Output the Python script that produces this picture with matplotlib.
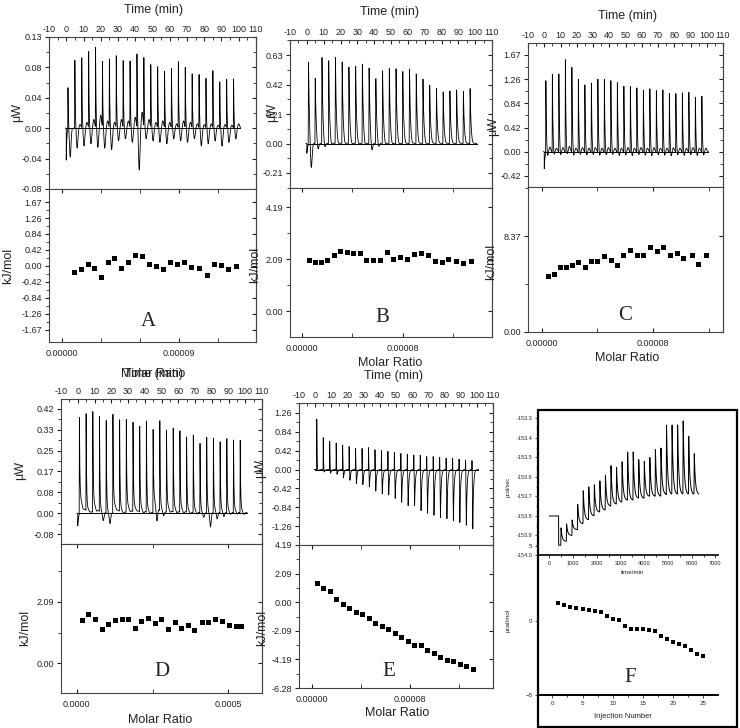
import numpy as np
import matplotlib
matplotlib.use('Agg')
import matplotlib.pyplot as plt
from matplotlib.ticker import FixedLocator, FixedFormatter, MultipleLocator
from matplotlib.patches import Rectangle

plt.rcParams['font.family'] = ['Liberation Sans', 'DejaVu Sans']
plt.rcParams['axes.linewidth'] = 0.8

# ---------------- data ----------------
inj_time = [1, 5, 9, 13, 17, 21, 25, 29, 33, 37, 41, 45, 49,
            53, 57, 61, 65, 69, 73, 77, 81, 85, 89, 93, 97]
time_ticks = [-10, 0, 10, 20, 30, 40, 50, 60, 70, 80, 90, 100, 110]

# A
a_peak = [0.059, 0.095, 0.097, 0.105, 0.111, 0.091, 0.096, 0.101, 0.093, 0.092, 0.101, 0.095, 0.087,
          0.085, 0.079, 0.083, 0.092, 0.083, 0.074, 0.074, 0.069, 0.080, 0.065, 0.068, 0.068]
a_dip = [-0.040, -0.028, -0.025, -0.022, -0.027, -0.028, -0.030, -0.018, -0.015, -0.020, -0.058, -0.015, -0.018,
         -0.020, -0.022, -0.015, -0.018, -0.020, -0.015, -0.025, -0.022, -0.018, -0.025, -0.020, -0.015]
a_bump = [0.0, 0.005, 0.008, 0.012, 0.018, 0.010, 0.008, 0.012, 0.010, 0.015, 0.022, 0.012, 0.008,
          0.010, 0.008, 0.006, 0.010, 0.008, 0.006, 0.005, 0.006, 0.004, 0.005, 0.004, 0.006]
a_ratio = [0.93, 1.45, 1.97, 2.48, 3.00, 3.52, 4.03, 4.55, 5.07, 5.64, 6.15, 6.70,
           7.22, 7.78, 8.33, 8.90, 9.41, 9.98, 10.58, 11.15, 11.72, 12.26, 12.83, 13.42]  # x1e-5
a_heat = [-0.16, -0.09, 0.04, -0.05, -0.30, 0.11, 0.21, -0.05, 0.11, 0.30, 0.27, 0.04,
          0.00, -0.07, 0.11, 0.06, 0.11, -0.03, -0.05, -0.23, 0.06, 0.02, -0.09, 0.01]

# B
b_peak = [0.593, 0.467, 0.612, 0.588, 0.612, 0.581, 0.546, 0.553, 0.569, 0.539, 0.460, 0.517, 0.534,
          0.534, 0.515, 0.534, 0.498, 0.458, 0.413, 0.392, 0.368, 0.375, 0.384, 0.375, 0.392]
b_dip = [-0.20, -0.06, -0.05, -0.03, -0.02, -0.02, -0.02, -0.02, -0.03, -0.07, -0.04, -0.02, -0.02,
         -0.02, -0.015, -0.015, -0.015, -0.015, -0.01, -0.01, -0.01, -0.01, -0.01, -0.01, -0.01]
b_ratio = [0.58, 1.05, 1.53, 2.03, 2.56, 3.03, 3.56, 4.09, 4.62, 5.12, 5.67, 6.20, 6.73,
           7.26, 7.79, 8.32, 8.89, 9.42, 10.03, 10.56, 11.09, 11.61, 12.22, 12.80, 13.41]
b_heat = [2.08, 2.00, 1.99, 2.07, 2.27, 2.43, 2.38, 2.36, 2.36, 2.08, 2.08, 2.05, 2.38,
          2.11, 2.17, 2.11, 2.31, 2.34, 2.27, 2.01, 1.99, 2.09, 2.03, 1.92, 2.04]

# C
c_peak = [1.278, 1.354, 1.354, 1.598, 1.470, 1.267, 1.174, 1.209, 1.278, 1.261, 1.232, 1.203, 1.145,
          1.145, 1.122, 1.087, 1.104, 1.063, 1.075, 1.017, 1.017, 1.034, 1.046, 0.959, 0.970]
c_dip = [-0.12, -0.10, -0.11, -0.10, -0.12, -0.10, -0.11, -0.10, -0.12, -0.11, -0.10, -0.12, -0.11,
         -0.12, -0.10, -0.11, -0.12, -0.10, -0.11, -0.12, -0.10, -0.11, -0.10, -0.11, -0.10]
c_bump = [0.08, 0.06, 0.07, 0.09, 0.06, 0.07, 0.06, 0.07, 0.06, 0.07, 0.06, 0.06, 0.07,
          0.06, 0.07, 0.06, 0.07, 0.06, 0.06, 0.07, 0.06, 0.06, 0.07, 0.06, 0.06]
c_ratio = [0.43, 0.88, 1.31, 1.74, 2.20, 2.63, 3.10, 3.53, 3.99, 4.47, 4.94, 5.37, 5.85,
           6.33, 6.81, 7.28, 7.76, 8.24, 8.72, 9.19, 9.67, 10.15, 10.75, 11.22, 11.77]
c_heat = [4.93, 5.05, 5.64, 5.67, 5.87, 6.11, 5.70, 6.23, 6.23, 6.61, 6.31, 5.87, 6.73,
          7.14, 6.75, 6.73, 7.43, 7.05, 7.46, 6.73, 6.93, 6.43, 6.75, 5.96, 6.73]

# D
d_peak = [0.394, 0.391, 0.404, 0.380, 0.371, 0.398, 0.371, 0.378, 0.362, 0.344, 0.364, 0.333, 0.362,
          0.333, 0.341, 0.331, 0.304, 0.311, 0.277, 0.304, 0.301, 0.287, 0.301, 0.295, 0.291]
d_tail = [0.085, 0.02, 0.055, 0.01, 0.01, 0.06, 0.02, 0.05, 0.04, 0.03, 0.02, 0.08, 0.02,
          0.04, 0.03, 0.03, 0.02, 0.02, 0.01, 0.02, 0.02, 0.02, 0.015, 0.02, 0.015]
d_dip = [-0.01, -0.005, -0.01, -0.035, -0.045, -0.005, -0.01, -0.01, -0.005, -0.01, -0.01, -0.058, -0.02,
         -0.01, -0.01, -0.01, -0.01, -0.01, -0.02, -0.062, -0.03, -0.02, -0.01, -0.01, -0.01]
d_ratio = [0.165, 0.385, 0.60, 0.82, 1.04, 1.26, 1.48, 1.70, 1.91, 2.13, 2.35, 2.57, 2.79,
           3.01, 3.23, 3.45, 3.66, 3.88, 4.12, 4.34, 4.56, 4.79, 5.03, 5.24, 5.41]  # x1e-4
d_heat = [1.49, 1.67, 1.51, 1.16, 1.33, 1.46, 1.51, 1.50, 1.20, 1.45, 1.53, 1.38, 1.51,
          1.16, 1.42, 1.20, 1.30, 1.15, 1.41, 1.41, 1.51, 1.45, 1.32, 1.27, 1.27]

# E
e_up = [1.144, 0.716, 0.628, 0.590, 0.546, 0.517, 0.480, 0.480, 0.495, 0.443, 0.421, 0.406, 0.384,
        0.362, 0.347, 0.332, 0.325, 0.288, 0.288, 0.273, 0.258, 0.251, 0.236, 0.214, 0.199]
e_down = [-0.096, -0.111, -0.133, -0.155, -0.229, -0.280, -0.354, -0.377, -0.428, -0.517, -0.576, -0.598, -0.672,
          -0.760, -0.834, -0.834, -0.945, -0.997, -1.040, -1.093, -1.115, -1.167, -1.204, -1.263, -1.336]
e_ratio = [0.41, 0.94, 1.47, 2.00, 2.53, 3.06, 3.59, 4.12, 4.66, 5.19, 5.72, 6.25, 6.78,
           7.31, 7.84, 8.37, 8.91, 9.44, 9.97, 10.50, 11.03, 11.56, 12.09, 12.62, 13.18]
e_heat = [1.41, 1.02, 0.80, 0.27, -0.12, -0.46, -0.73, -0.90, -1.14, -1.51, -1.75, -1.95, -2.24,
          -2.56, -2.87, -3.12, -3.12, -3.48, -3.72, -4.02, -4.21, -4.31, -4.50, -4.67, -4.89]

# F
f_time = [494, 728, 962, 1196, 1430, 1664, 1898, 2132, 2366, 2600, 2834, 3068, 3302,
          3536, 3770, 4004, 4238, 4472, 4706, 4940, 5174, 5408, 5642, 5876, 6110]
f_peak = [-153.86, -153.84, -153.82, -153.74, -153.67, -153.65, -153.64, -153.62, -153.59, -153.54,
          -153.55, -153.52, -153.47, -153.47, -153.51, -153.52, -153.50, -153.46, -153.45, -153.33,
          -153.33, -153.33, -153.31, -153.39, -153.48]
f_base = [-153.95, -153.93, -153.90, -153.87, -153.84, -153.82, -153.80, -153.78, -153.77, -153.75,
          -153.74, -153.73, -153.72, -153.72, -153.71, -153.71, -153.70, -153.70, -153.70, -153.69,
          -153.69, -153.69, -153.69, -153.69, -153.69]
f_inj = list(range(1, 26))
f_heat = [1.17, 1.08, 0.94, 0.85, 0.76, 0.70, 0.63, 0.58, 0.31, 0.13, 0.02, -0.36, -0.56,
          -0.56, -0.58, -0.63, -0.70, -1.03, -1.21, -1.43, -1.57, -1.70, -1.97, -2.26, -2.35]

# ---------------- helpers ----------------
FW, FH = 740, 728
fig = plt.figure(figsize=(FW / 100, FH / 100), dpi=100)
INK = '#222222'


def box(l, t, r, b):
    return fig.add_axes([l / FW, 1 - b / FH, (r - l) / FW, (b - t) / FH])


def ftext(x, y, s, **kw):
    kw.setdefault('color', INK)
    fig.text(x / FW, 1 - y / FH, s, ha='center', va='center', **kw)


t = np.linspace(-0.5, 101, 12000)


def spikes(heights, tau, rise=0.2):
    y = np.zeros_like(t)
    for ti, h in zip(inj_time, heights):
        d = t - ti
        y += np.where((d > -rise) & (d < 0), h * (d + rise) / rise, 0)
        y += np.where(d >= 0, h * np.exp(-np.clip(d, 0, None) / tau), 0)
    return y


def bumps(amps, offset, width):
    y = np.zeros_like(t)
    for ti, a in zip(inj_time, amps):
        y += a * np.exp(-0.5 * ((t - ti - offset) / width) ** 2)
    return y


def start(v, tau=0.6):
    return np.where(t >= 0, v * np.exp(-np.clip(t, 0, None) / tau), 0)


def mids(vals):
    return [(a + b) / 2 for a, b in zip(vals[:-1], vals[1:])]


def style_y(ax, ticks, labels, minor=True):
    ax.yaxis.set_major_locator(FixedLocator(ticks))
    ax.yaxis.set_major_formatter(FixedFormatter(labels))
    if minor:
        ax.yaxis.set_minor_locator(FixedLocator(mids(ticks) + [ticks[0] - (ticks[1] - ticks[0]) / 2,
                                                               ticks[-1] + (ticks[1] - ticks[0]) / 2]))
    ax.tick_params(axis='y', which='both', direction='out', left=True, right=False,
                   labelsize=6.5, colors=INK, pad=2)
    ax.tick_params(axis='y', which='major', length=3)
    ax.tick_params(axis='y', which='minor', length=2)
    sec = ax.secondary_yaxis('right')
    sec.yaxis.set_major_locator(FixedLocator(ticks))
    sec.yaxis.set_minor_locator(ax.yaxis.get_minor_locator())
    sec.tick_params(which='both', direction='in', labelright=False, colors=INK)
    sec.tick_params(which='major', length=3)
    sec.tick_params(which='minor', length=2)
    sec.spines['right'].set_color('#444444')
    for s in ax.spines.values():
        s.set_color('#444444')


def top_panel(box_px, trace, ylim, ticks, labels):
    ax = box(*box_px)
    ax.plot(t, trace, color='black', lw=0.6)
    ax.plot([0, 101], [0, 0], color='black', lw=0.7)
    ax.set_xlim(-10, 110)
    ax.set_ylim(*ylim)
    ax.xaxis.set_ticks_position('top')
    ax.xaxis.set_major_locator(FixedLocator(time_ticks))
    ax.xaxis.set_major_formatter(FixedFormatter([str(v) for v in time_ticks]))
    ax.xaxis.set_minor_locator(MultipleLocator(5))
    ax.tick_params(axis='x', which='both', direction='in', top=True, bottom=False,
                   labelsize=6.5, colors=INK, pad=2)
    ax.tick_params(axis='x', which='major', length=3)
    ax.tick_params(axis='x', which='minor', length=2)
    style_y(ax, ticks, labels)
    return ax


def bottom_panel(box_px, x, y, xlim, xmaj, xlab, xmin_step, ylim, ticks, labels, yminor):
    ax = box(*box_px)
    ax.plot(x, y, 's', color='black', ms=3.6, mew=0)
    ax.set_xlim(*xlim)
    ax.set_ylim(*ylim)
    ax.xaxis.set_major_locator(FixedLocator(xmaj))
    ax.xaxis.set_major_formatter(FixedFormatter(xlab))
    ax.xaxis.set_minor_locator(MultipleLocator(xmin_step))
    ax.tick_params(axis='x', which='both', direction='in', top=True, bottom=True,
                   labelsize=6.5, colors=INK, pad=5)
    ax.tick_params(axis='x', which='major', length=3)
    ax.tick_params(axis='x', which='minor', length=3)
    style_y(ax, ticks, labels, minor=False)
    ax.yaxis.set_minor_locator(FixedLocator(yminor))
    ax.tick_params(axis='y', which='minor', length=2)
    return ax


kc = 4.186

# ---------------- A ----------------
tr_a = spikes(a_peak, 0.25, 0.15) + bumps(a_dip, 1.3, 0.45) + bumps(a_bump, 3.0, 0.5) + start(-0.045, 0.3)
top_panel((49, 37, 256, 189), tr_a, (-0.0837, 0.1255),
          [-0.0837, -0.0419, 0, 0.0419, 0.0837, 0.1255], ['-0.08', '-0.04', '0.00', '0.04', '0.08', '0.13'])
a_tk = [-0.4 * kc, -0.3 * kc, -0.2 * kc, -0.1 * kc, 0, 0.1 * kc, 0.2 * kc, 0.3 * kc, 0.4 * kc]
bottom_panel((49, 189, 256, 342), np.array(a_ratio) * 1e-5, a_heat, (-1.01e-5, 14.97e-5),
             [0, 9e-5], ['0.00000', '0.00009'], 3e-5, (-1.99, 2.015),
             a_tk, ['-1.67', '-1.26', '-0.84', '-0.42', '0.00', '0.42', '0.84', '1.26', '1.67'],
             mids(a_tk))

# ---------------- B ----------------
tr_b = spikes(b_peak, 0.55, 0.2) + bumps(b_dip, 1.6, 0.5) + start(-0.07, 0.5)
top_panel((290, 40, 492, 188), tr_b, (-0.316, 0.735),
          [-0.2093, 0, 0.2093, 0.4186, 0.6279], ['-0.21', '0.00', '0.21', '0.42', '0.63'])
bottom_panel((290, 188, 492, 337), np.array(b_ratio) * 1e-5, b_heat, (-0.93e-5, 15.07e-5),
             [0, 8e-5], ['0.00000', '0.00008'], 4e-5, (-1.05, 4.97),
             [0, 2.093, 4.186], ['0.00', '2.09', '4.19'], [1.046, 3.14])

# ---------------- C ----------------
tr_c = spikes(c_peak, 0.35, 0.15) + bumps(c_dip, 1.0, 0.4) + bumps(c_bump, 2.5, 0.5) + start(-0.30, 0.4)
top_panel((528, 43, 723, 187), tr_c, (-0.61, 1.88),
          [-0.4186, 0, 0.4186, 0.8372, 1.2558, 1.6744], ['-0.42', '0.00', '0.42', '0.84', '1.26', '1.67'])
bottom_panel((528, 187, 723, 332), np.array(c_ratio) * 1e-5, c_heat, (-0.98e-5, 13.0e-5),
             [0, 8e-5], ['0.00000', '0.00008'], 4e-5, (0, 12.66),
             [0, 8.372], ['0.00', '8.37'], [4.186, 12.558])

# ---------------- D ----------------
d_fast = np.array(d_peak) - np.array(d_tail)
tr_d = (spikes(d_fast, 0.25, 0.15) + spikes(d_tail, 2.0, 0.15) + bumps(d_dip, 2.2, 0.45)
        + start(-0.05, 0.4))
top_panel((61, 399, 262, 544), tr_d, (-0.1225, 0.457),
          [-0.0837, 0, 0.0837, 0.1674, 0.2511, 0.3349, 0.4186],
          ['-0.08', '0.00', '0.08', '0.17', '0.25', '0.33', '0.42'])
bottom_panel((61, 544, 262, 693), np.array(d_ratio) * 1e-4, d_heat, (-0.518e-4, 6.11e-4),
             [0, 5e-4], ['0.0000', '0.0005'], 2.5e-4, (-1.0, 4.05),
             [0, 2.093], ['0.00', '2.09'], [1.046, 3.14])

# ---------------- E ----------------
tr_e = spikes(e_up, 0.2, 0.12)
for ti, h in zip(inj_time, e_down):
    d = t - ti - 0.5
    tr_e += np.where((d > -0.4) & (d < 0), h * (d + 0.4) / 0.4, 0)
    tr_e += np.where(d >= 0, h * np.exp(-np.clip(d, 0, None) / 0.45), 0)
top_panel((299, 403, 493, 545), tr_e, (-1.674, 1.476),
          [-0.4 * kc, -0.3 * kc, -0.2 * kc, -0.1 * kc, 0, 0.1 * kc, 0.2 * kc, 0.3 * kc],
          ['-1.67', '-1.26', '-0.84', '-0.42', '0.00', '0.42', '0.84', '1.26'])
bottom_panel((299, 545, 493, 688), np.array(e_ratio) * 1e-5, e_heat, (-1.04e-5, 14.82e-5),
             [0, 8e-5], ['0.00000', '0.00008'], 4e-5, (-1.5 * kc, 1.0 * kc),
             [-1.5 * kc, -1.0 * kc, -0.5 * kc, 0, 0.5 * kc, 1.0 * kc],
             ['-6.28', '-4.19', '-2.09', '0.00', '2.09', '4.19'],
             [-1.25 * kc, -0.75 * kc, -0.25 * kc, 0.25 * kc, 0.75 * kc])

# ---------------- F ----------------
axf = box(538, 410, 718, 695)
axf.plot(f_inj, f_heat, 's', color='black', ms=2.6, mew=0)
axf.set_xlim(-2.37, 27.43)
axf.set_ylim(-5, 14.18)
axf.set_xticks([0, 5, 10, 15, 20, 25])
axf.set_yticks([-5, 0, 5])
axf.xaxis.set_minor_locator(MultipleLocator(2.5))
axf.tick_params(which='both', labelsize=4.5, colors=INK, length=2, width=0.6, pad=2)
axf.tick_params(which='minor', length=1.2)
for side in ('top', 'right'):
    axf.spines[side].set_visible(False)
for side in ('left', 'bottom'):
    axf.spines[side].set_linewidth(1.4)

ins = box(538, 410, 718, 555)
ins.set_facecolor('white')
tf = np.linspace(0, 6300, 8000)
trace_f = np.where(tf < 390, -153.80, f_base[0])
for i, ti in enumerate(f_time):
    nxt = f_base[i + 1] if i + 1 < len(f_base) else f_base[-1]
    seg_end = f_time[i + 1] if i + 1 < len(f_time) else 6400
    m = (tf >= ti) & (tf < seg_end)
    d = tf[m] - ti
    trace_f[m] = nxt + (f_peak[i] - nxt) * np.exp(-d / 45.0)
    r = (tf >= ti - 12) & (tf < ti)
    trace_f[r] = f_base[i] + (f_peak[i] - f_base[i]) * (tf[r] - ti + 12) / 12
ins.plot(tf, trace_f, color='black', lw=0.7)
ins.set_xlim(-477, 7110)
ins.set_ylim(-154.0, -153.257)
ins.set_xticks(range(0, 7001, 1000))
ins.set_yticks([-154.0, -153.9, -153.8, -153.7, -153.6, -153.5, -153.4, -153.3])
ins.set_yticklabels(['-154.0', '-153.9', '-153.8', '-153.7', '-153.6', '-153.5', '-153.4', '-153.3'])
ins.xaxis.set_minor_locator(MultipleLocator(500))
ins.yaxis.set_minor_locator(MultipleLocator(0.05))
ins.tick_params(which='both', labelsize=4, colors=INK, length=2, width=0.6, pad=2)
ins.tick_params(which='minor', length=1.2)
for side in ('top', 'right'):
    ins.spines[side].set_visible(False)
for side in ('left', 'bottom'):
    ins.spines[side].set_linewidth(1.2)
fig.add_artist(Rectangle((538 / FW, 1 - 727 / FH), (737 - 538) / FW, (727 - 410) / FH,
                         transform=fig.transFigure, fill=False, lw=1.6, ec='black'))

# ---------------- labels ----------------
lab = dict(fontsize=9)
ylab = dict(fontsize=9, rotation=90)
letter = dict(fontsize=15, family='Liberation Serif')

ftext(153, 10, 'Time (min)', **lab)
ftext(17, 113, 'μW', **ylab)
ftext(8, 266, 'kJ/mol', **ylab)
ftext(153, 374, 'Molar Ratio', **lab)
ftext(153, 374, 'Time (min)', **lab)
ftext(148, 322, 'A', **letter)

ftext(390, 12, 'Time (min)', **lab)
ftext(272, 112, 'μW', **ylab)
ftext(255, 265, 'kJ/mol', **ylab)
ftext(390, 363, 'Molar Ratio', **lab)
ftext(382, 318, 'B', **letter)

ftext(627, 16, 'Time (min)', **lab)
ftext(493, 127, 'μW', **ylab)
ftext(491, 262, 'kJ/mol', **ylab)
ftext(627, 358, 'Molar Ratio', **lab)
ftext(625, 315, 'C', **letter)

ftext(20, 470, 'μW', **ylab)
ftext(25, 628, 'kJ/mol', **ylab)
ftext(160, 720, 'Molar Ratio', **lab)
ftext(162, 672, 'D', **letter)

ftext(393, 376, 'Time (min)', **lab)
ftext(260, 468, 'μW', **ylab)
ftext(262, 628, 'kJ/mol', **ylab)
ftext(397, 713, 'Molar Ratio', **lab)
ftext(389, 672, 'E', **letter)

ftext(633, 573, 'time/min', fontsize=4.5)
ftext(508, 487, 'μcal/sec', fontsize=4, rotation=90)
ftext(508, 620, 'μcal/mol', fontsize=4.5, rotation=90)
ftext(623, 717, 'Injection Number', fontsize=5.5)
ftext(630, 678, 'F', **letter)

fig.savefig('out.png', dpi=100)
